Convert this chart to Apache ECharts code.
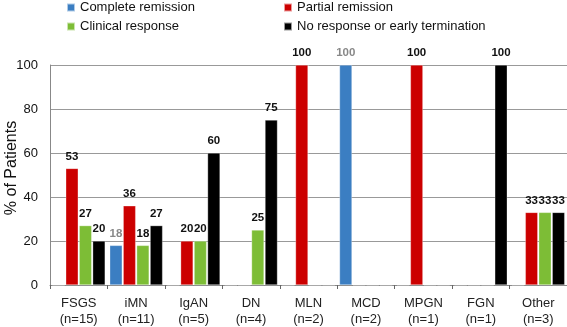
<!DOCTYPE html>
<html>
<head>
<meta charset="utf-8">
<script src="https://cdn.jsdelivr.net/npm/echarts@6/dist/echarts.min.js"></script>
<style>
html,body{margin:0;padding:0;background:#fff;}
#chart{width:567px;height:327px;}
</style>
</head>
<body>
<div id="chart"></div>
<script>
//data
var categories=["FSGS\n(n=15)","iMN\n(n=11)","IgAN\n(n=5)","DN\n(n=4)","MLN\n(n=2)","MCD\n(n=2)","MPGN\n(n=1)","FGN\n(n=1)","Other\n(n=3)"];
var completeRemission=[0,18,0,0,0,100,0,0,0];
var partialRemission=[53,36,20,0,100,0,100,0,33];
var clinicalResponse=[27,18,20,25,0,0,0,0,33];
var noResponse=[20,27,60,75,0,0,0,100,33];
var yTicks=[0,20,40,60,80,100];

var chart=echarts.init(document.getElementById("chart"));
var font="Liberation Sans, Arial, sans-serif";

function makeSeries(name,data,color,labelColor){
    return {
        name:name,
        type:"bar",
        data:data,
        barGap:"8%",
        barCategoryGap:"8%",
        itemStyle:{color:color,borderColor:"rgba(255,255,255,0.6)",borderWidth:0.5},
        label:{
            show:true,
            position:"top",
            distance:6,
            color:labelColor,
            fontFamily:font,
            fontSize:11.5,
            fontWeight:"bold",
            formatter:function(p){return p.value>0?p.value:"";}
        }
    };
}

var option={
    animation:false,
    legend:[{
        data:["Complete remission","Clinical response"],
        orient:"vertical",
        left:61,
        top:-4,
        itemWidth:8,
        itemHeight:8,
        itemGap:6,
        icon:"rect",
        textStyle:{color:"#111",fontSize:13,fontFamily:font}
    },{
        data:["Partial remission","No response or early termination"],
        orient:"vertical",
        left:278,
        top:-4,
        itemWidth:8,
        itemHeight:8,
        itemGap:6,
        icon:"rect",
        textStyle:{color:"#111",fontSize:13,fontFamily:font}
    }],
    grid:{left:50,right:0,top:65,bottom:42,outerBoundsMode:"none",containLabel:false},
    xAxis:{
        type:"category",
        data:categories,
        axisLine:{lineStyle:{color:"#888",width:1}},
        axisTick:{show:true,length:4,lineStyle:{color:"#666"}},
        axisLabel:{color:"#222",fontSize:13,fontFamily:font,lineHeight:16,margin:10}
    },
    yAxis:{
        type:"value",
        min:yTicks[0],
        max:yTicks[yTicks.length-1],
        interval:20,
        name:"% of Patients",
        nameLocation:"middle",
        nameGap:30,
        nameMoveOverlap:false,
        nameTextStyle:{color:"#111",fontSize:16,fontFamily:font,padding:[0,0,0,14]},
        axisLine:{show:true,lineStyle:{color:"#888"}},
        axisTick:{show:false},
        axisLabel:{color:"#111",fontSize:13,fontFamily:font,margin:12},
        splitLine:{lineStyle:{color:"#999",width:1}}
    },
    series:[
        makeSeries("Complete remission",completeRemission,"#3b7ec2","#888"),
        makeSeries("Partial remission",partialRemission,"#cc0000","#111"),
        makeSeries("Clinical response",clinicalResponse,"#7dbd36","#111"),
        makeSeries("No response or early termination",noResponse,"#000000","#111")
    ]
};
chart.setOption(option);
</script>
</body>
</html>
